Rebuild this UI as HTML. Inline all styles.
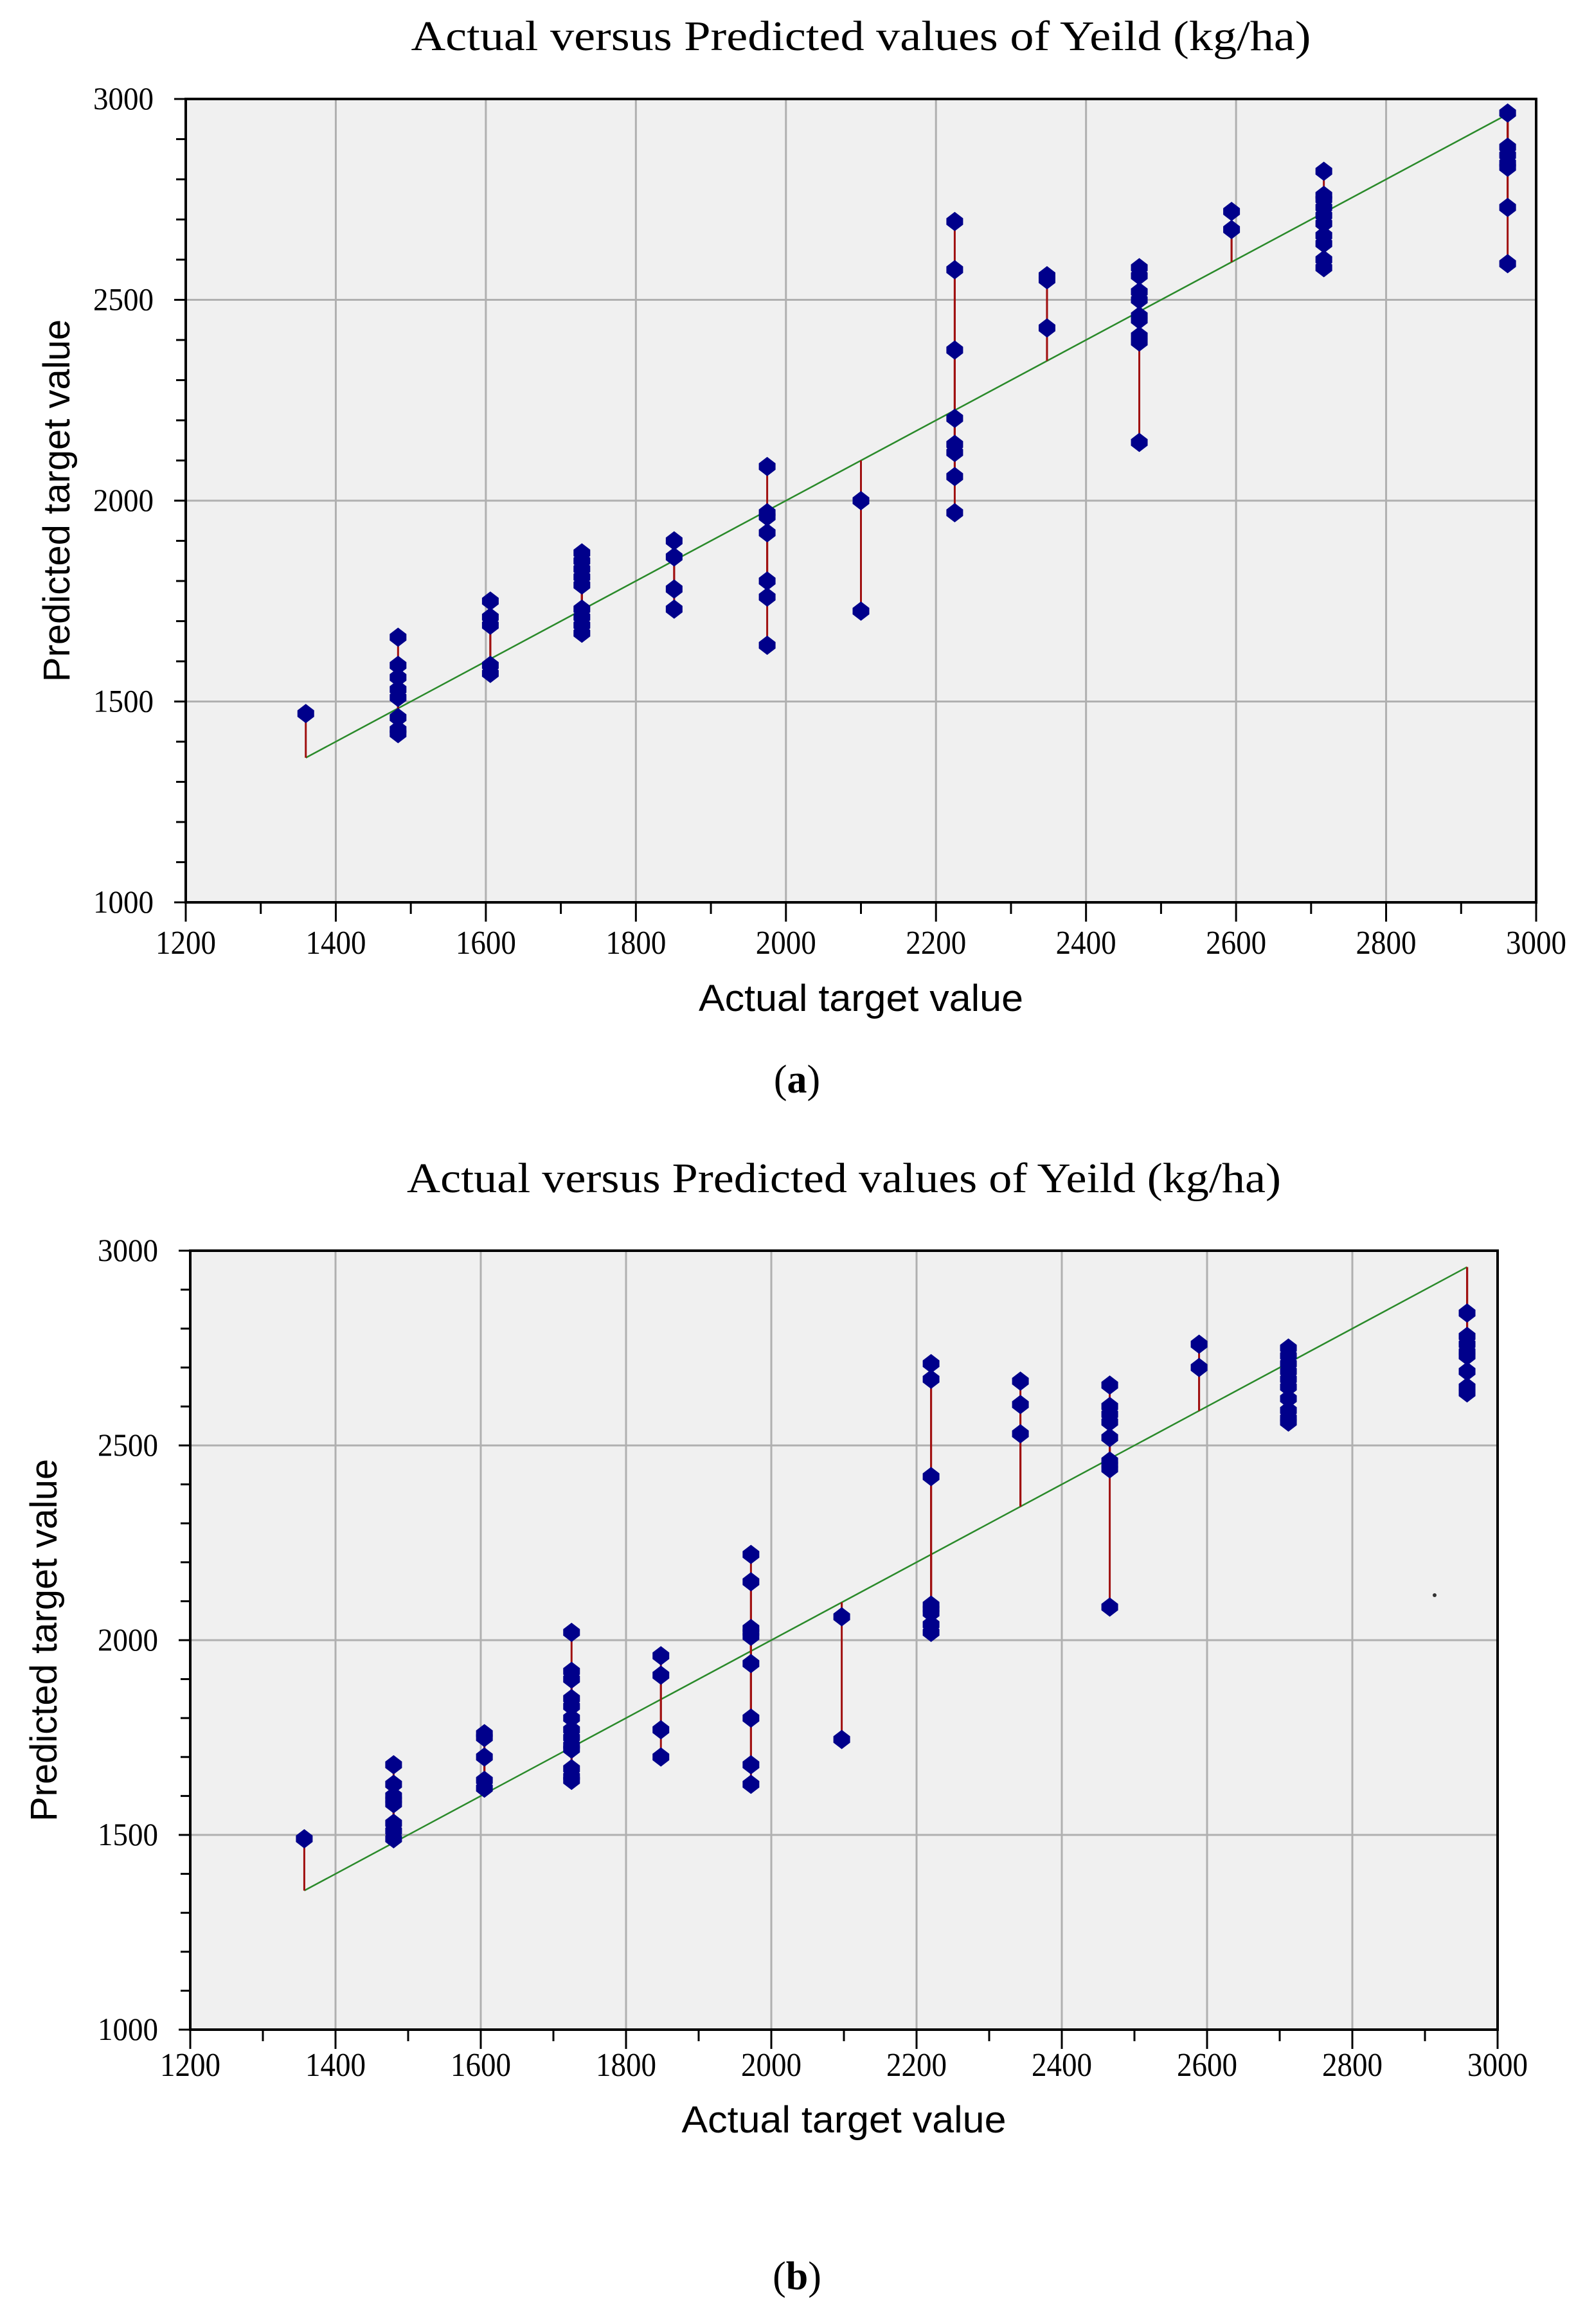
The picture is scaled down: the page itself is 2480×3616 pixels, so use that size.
<!DOCTYPE html>
<html><head><meta charset="utf-8"><style>
html,body{margin:0;padding:0;background:#fff;}
svg{display:block;}
</style></head><body>
<svg id="fig" width="2480" height="3616" viewBox="0 0 2480 3616" xmlns="http://www.w3.org/2000/svg">
<g id="chartA"></g>
<g id="chartB"></g>
<text x="1240" y="1700" text-anchor="middle" font-family="Liberation Serif, serif" font-size="62">(<tspan font-weight="bold">a</tspan>)</text>
<text x="1240" y="3562" text-anchor="middle" font-family="Liberation Serif, serif" font-size="62">(<tspan font-weight="bold">b</tspan>)</text>
</svg>
<script>
const xTicks = [1200,1400,1600,1800,2000,2200,2400,2600,2800,3000];
const yTicks = [1000,1500,2000,2500,3000];
const actualA = [1360,1483,1606,1728,1851,1975,2100,2225,2348,2471,2594,2717,2962];
const predictedA = [
 [1470],
 [1660,1590,1560,1530,1510,1460,1430,1420],
 [1750,1710,1690,1590,1570],
 [1870,1850,1830,1810,1790,1730,1710,1690,1670],
 [1900,1860,1780,1730],
 [2085,1970,1960,1920,1800,1760,1640],
 [2000,1725],
 [2695,2575,2375,2205,2140,2120,2060,1970],
 [2560,2550,2430],
 [2580,2560,2520,2500,2460,2450,2410,2395,2145],
 [2720,2675],
 [2820,2760,2750,2730,2710,2690,2660,2640,2600,2580],
 [2965,2880,2860,2840,2830,2730,2590]
];
const actualB = [1357,1480,1605,1725,1848,1972,2097,2220,2343,2466,2589,2712,2958];
const predictedB = [
 [1490],
 [1680,1630,1600,1590,1580,1530,1510,1490],
 [1760,1750,1700,1640,1620],
 [2020,1920,1900,1850,1830,1800,1770,1750,1730,1720,1670,1650,1640],
 [1960,1910,1770,1700],
 [2220,2150,2030,2020,2010,1940,1800,1680,1630],
 [2060,1745],
 [2710,2670,2420,2090,2080,2070,2040,2020],
 [2665,2605,2530],
 [2655,2600,2580,2560,2520,2460,2450,2440,2085],
 [2760,2700],
 [2750,2730,2710,2690,2670,2650,2620,2590,2570,2560],
 [2840,2780,2760,2740,2730,2690,2650,2635]
];
const NS='http://www.w3.org/2000/svg';
function mk(parent,tag,attrs){const e=document.createElementNS(NS,tag);for(const k in attrs)e.setAttribute(k,attrs[k]);parent.appendChild(e);return e;}
function drawChart(g,L,R,T,B,actual,pred,titleY,titleW,ylabX,xlabY,tickY){
  const sx=v=>L+(v-1200)/1800*(R-L);
  const sy=v=>B-(v-1000)/2000*(B-T);
  const bg=mk(g,'rect',{x:L,y:T,width:R-L,height:B-T,fill:'#f0f0f0'});
  
  
  xTicks.forEach(v=>{
    const l=mk(g,'line',{x1:sx(v),x2:sx(v),y1:T,y2:B,stroke:'#b0b0b0','stroke-width':3});
    
    
    const tk=mk(g,'line',{x1:sx(v),x2:sx(v),y1:B,y2:B+30,stroke:'#000','stroke-width':3});
    
    
    const t=mk(g,'text',{x:sx(v),y:tickY,'text-anchor':'middle','font-family':'Liberation Serif, serif','font-size':52,textLength:94,lengthAdjust:'spacingAndGlyphs'});
    t.textContent=v;
    
    
  });
  for(let v=1300;v<3000;v+=200){
    const tk=mk(g,'line',{x1:sx(v),x2:sx(v),y1:B,y2:B+18,stroke:'#000','stroke-width':3});
    
    
  }
  yTicks.forEach(v=>{
    const l=mk(g,'line',{x1:L,x2:R,y1:sy(v),y2:sy(v),stroke:'#b0b0b0','stroke-width':3});
    
    
    const tk=mk(g,'line',{x1:L-18,x2:L,y1:sy(v),y2:sy(v),stroke:'#000','stroke-width':3});
    
    
    const t=mk(g,'text',{x:L-50,y:sy(v)+16,'text-anchor':'end','font-family':'Liberation Serif, serif','font-size':50,textLength:94,lengthAdjust:'spacingAndGlyphs'});
    t.textContent=v;
    
    
  });
  for(let v=1100;v<3000;v+=100){
    if(v%500===0)continue;
    const tk=mk(g,'line',{x1:L-15,x2:L,y1:sy(v),y2:sy(v),stroke:'#000','stroke-width':3});
    
    
  }
  const fr=mk(g,'rect',{x:L,y:T,width:R-L,height:B-T,fill:'none',stroke:'#000','stroke-width':4});
  
  
  const a0=actual[0],a1=actual[actual.length-1];
  const diag=mk(g,'line',{x1:sx(a0),y1:sy(a0),x2:sx(a1),y2:sy(a1),stroke:'#2a8a2a','stroke-width':2.5});
  
  
  actual.forEach((a,i)=>{
    pred[i].forEach(p=>{
      const r=mk(g,'line',{x1:sx(a),x2:sx(a),y1:sy(a),y2:sy(p),stroke:'#a01010','stroke-width':3});
      
      
    });
  });
  actual.forEach((a,i)=>{
    pred[i].forEach(p=>{
      const cx=sx(a),cy=sy(p);
      const d=mk(g,'path',{d:`M${cx},${cy-15} L${cx+13},${cy-5} L${cx+13},${cy+5} L${cx},${cy+15} L${cx-13},${cy+5} L${cx-13},${cy-5} Z`,fill:'#00008b'});
      
      
    });
  });
  const tt=mk(g,'text',{x:(L+R)/2,y:titleY,'text-anchor':'middle','font-family':'Liberation Serif, serif','font-size':66,textLength:titleW,lengthAdjust:'spacingAndGlyphs'});
  tt.textContent='Actual versus Predicted values of Yeild (kg/ha)';
  
  
  const yl=mk(g,'text',{x:0,y:0,'text-anchor':'middle','font-family':'Liberation Sans, sans-serif','font-size':58,transform:`translate(${ylabX},${(T+B)/2}) rotate(-90)`});
  yl.textContent='Predicted target value';
  
  
  const xl=mk(g,'text',{x:(L+R)/2,y:xlabY,'text-anchor':'middle','font-family':'Liberation Sans, sans-serif','font-size':58,textLength:505,lengthAdjust:'spacingAndGlyphs'});
  xl.textContent='Actual target value';
  
  
}
drawChart(document.getElementById('chartA'),289,2390,154,1404,actualA,predictedA,78,1400,108,1573,1484);
drawChart(document.getElementById('chartB'),296,2330,1946,3158,actualB,predictedB,1855,1360,88,3318,3230);
const stray=mk(document.getElementById('chartB'),'circle',{cx:2232,cy:2482,r:3,fill:'#333'});


</script>
</body></html>
